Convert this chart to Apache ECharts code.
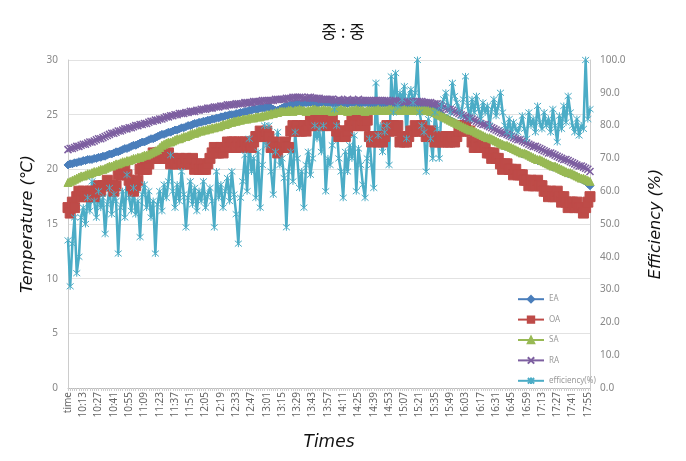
<!DOCTYPE html>
<html>
<head>
<meta charset="utf-8">
<script src="https://cdn.jsdelivr.net/npm/echarts@6/dist/echarts.min.js"></script>
<style>
  html, body { margin: 0; padding: 0; background: #fff; }
  #main { width: 686px; height: 461px; }
</style>
</head>
<body>
<div id="main"></div>
<script>
// categories: first row is the header cell "time", then 2-minute samples from 10:01
const firstLabel = 'time';
const startMinute = 9 * 60 + 59;
const stepMinutes = 2;
const pointCount = 240;

const legendNames = ['EA', 'OA', 'SA', 'RA', 'efficiency(%)'];

// EA temperature (℃)
const eaTemp = [
  20.4,20.5,20.5,20.6,20.6,20.7,20.7,20.8,20.8,20.9,20.9,20.9,21.0,21.0,21.1,21.1,21.2,21.2,21.3,21.4,
  21.4,21.5,21.6,21.6,21.7,21.8,21.9,21.9,22.0,22.1,22.2,22.2,22.3,22.4,22.5,22.5,22.6,22.7,22.8,22.8,
  22.9,23.0,23.1,23.2,23.2,23.3,23.4,23.4,23.5,23.6,23.6,23.7,23.8,23.8,23.9,24.0,24.0,24.1,24.2,24.2,
  24.3,24.3,24.4,24.4,24.5,24.5,24.6,24.6,24.7,24.7,24.8,24.8,24.9,24.9,25.0,25.0,25.0,25.1,25.1,25.2,
  25.2,25.3,25.3,25.4,25.4,25.5,25.5,25.5,25.6,25.6,25.6,25.7,25.7,25.6,25.5,25.4,25.4,25.5,25.6,25.7,
  25.8,25.8,25.9,25.9,26.0,26.0,26.0,26.0,26.1,26.1,26.1,26.1,26.1,26.0,26.0,26.1,26.1,26.1,26.1,26.1,
  26.1,26.1,26.0,26.0,26.1,26.1,26.1,26.0,26.0,26.1,26.1,26.1,26.1,26.0,26.0,26.1,26.1,26.1,26.0,26.0,
  26.0,26.1,26.1,26.0,26.0,26.0,26.1,26.0,26.0,26.0,26.0,26.0,26.0,25.9,25.9,26.0,26.0,26.0,25.9,25.9,
  26.0,26.0,26.0,25.9,25.9,25.8,25.7,25.6,25.5,25.4,25.2,25.0,24.8,24.7,24.6,24.5,24.4,24.3,24.1,24.0,
  23.9,23.8,23.7,23.6,23.5,23.5,23.4,23.3,23.2,23.1,23.0,22.9,22.8,22.8,22.7,22.6,22.5,22.4,22.3,22.2,
  22.1,22.1,22.0,21.9,21.8,21.7,21.6,21.5,21.4,21.4,21.3,21.2,21.1,21.0,20.9,20.8,20.8,20.7,20.6,20.5,
  20.4,20.3,20.2,20.2,20.1,20.0,19.9,19.8,19.7,19.6,19.6,19.5,19.4,19.3,19.2,19.1,19.0,18.9,18.7,18.5
];

// OA temperature (℃), 0.5 degree steps
const oaTemp = [
  16.5,16.0,17.0,16.5, 17.5,18.0,17.5,18.0,17.5,17.5,18.0, 18.0,17.5,18.0,18.5,18.0,
  18.5,18.5,19.0,18.5,18.5,18.0,18.5, 19.5,20.0,19.5,20.0,19.5,19.0, 18.5,18.0,18.5,19.0,
  20.0,20.5,20.0,20.0,20.5, 21.0,21.5,21.0,21.5,21.0,21.5,21.0,21.0,21.5,
  20.5,21.0,20.5,20.5,21.0,20.5,20.5,21.0,20.5,20.5,21.0, 20.0,20.5,20.0,20.5,20.0,20.0,20.5,21.0,
  21.5,22.0,21.5,21.5,22.0,21.5,22.0,
  22.5,22.0,22.5,22.5,22.0,22.5,22.0,22.5,22.5,22.0,22.5,22.0,22.5,23.0, 23.0,23.5,23.0,23.0,23.5,23.0,
  22.0,22.5,22.0,21.5,22.0,22.0,22.5,22.0,22.0, 23.5,24.0,23.5,24.0,23.5,23.5,24.0,23.5,24.0,
  24.5,24.0,24.5,24.0,24.5,24.5,24.0,24.5,24.5,24.0,24.5,24.0, 23.5,23.0,23.5,23.5,23.0,23.5,
  24.0,24.5,24.0,24.5,24.0,24.0,24.5,24.0,24.5, 23.0,22.5,23.0,23.0,22.5,23.0,22.5,23.0,
  24.0,23.5,24.0,24.0,23.5,24.0,22.5,23.0,22.5,22.5,23.0,23.5, 23.5,24.0,23.5,23.5,24.0,23.5,23.0,23.5,23.5,23.0,
  22.5,23.0,22.5,23.0,22.5,23.0,22.5,22.5,23.0,22.5,23.0, 23.5,24.0,23.5,24.0,23.5,23.5,
  22.5,22.0,22.5,22.0,22.0,22.5,22.0,21.5, 21.5,21.0,21.5,21.0,21.0, 20.5,20.0,20.5,20.5,20.0,20.0,
  19.5,20.0,19.5,19.5,19.5,19.0, 19.0,18.5,19.0,18.5,18.5,19.0,18.5,18.5,18.0, 18.0,17.5,18.0,17.5,17.5,18.0,17.5,
  17.0,17.5,17.0,16.5,17.0,17.0,16.5,17.0,16.5, 16.5,16.0,16.5, 17.0,17.5
];

// SA temperature (℃)
const saTemp = [
  18.8,18.9,19.0,19.1,19.2,19.3,19.4,19.4,19.5,19.6,19.6,19.7,19.8,19.8,19.9,20.0,20.0,20.1,20.2,20.3,
  20.3,20.4,20.5,20.5,20.6,20.7,20.7,20.8,20.8,20.9,21.0,21.0,21.1,21.1,21.2,21.3,21.3,21.4,21.5,21.6,
  21.7,21.8,22.0,22.2,22.3,22.4,22.5,22.5,22.6,22.7,22.8,22.8,22.9,23.0,23.0,23.1,23.2,23.3,23.3,23.4,
  23.5,23.5,23.6,23.6,23.7,23.7,23.8,23.8,23.9,23.9,24.0,24.1,24.1,24.2,24.3,24.3,24.4,24.4,24.5,24.5,
  24.6,24.6,24.6,24.7,24.7,24.7,24.8,24.8,24.8,24.9,24.9,25.0,25.0,25.1,25.1,25.2,25.2,25.3,25.3,25.3,
  25.3,25.4,25.4,25.3,25.4,25.4,25.5,25.4,25.4,25.3,25.4,25.4,25.5,25.5,25.4,25.4,25.4,25.5,25.4,25.4,
  25.4,25.3,25.4,25.4,25.4,25.5,25.4,25.4,25.3,25.4,25.4,25.4,25.5,25.4,25.4,25.4,25.3,25.4,25.4,25.4,
  25.4,25.4,25.5,25.4,25.4,25.4,25.4,25.5,25.5,25.4,25.4,25.4,25.4,25.4,25.5,25.4,25.4,25.4,25.4,25.4,
  25.4,25.4,25.4,25.4,25.4,25.4,25.3,25.3,25.2,25.1,25.0,24.9,24.8,24.7,24.6,24.5,24.4,24.3,24.2,24.1,
  24.0,23.9,23.8,23.7,23.6,23.6,23.5,23.4,23.3,23.2,23.1,23.0,22.9,22.9,22.8,22.7,22.6,22.5,22.4,22.3,
  22.2,22.2,22.1,22.0,21.9,21.8,21.7,21.6,21.5,21.5,21.4,21.3,21.2,21.1,21.0,20.9,20.9,20.8,20.7,20.6,
  20.5,20.4,20.3,20.3,20.2,20.1,20.0,19.9,19.8,19.7,19.7,19.6,19.5,19.4,19.3,19.2,19.2,19.1,19.0,18.9
];

// RA temperature (℃)
const raTemp = [
  21.8,21.9,21.9,22.0,22.1,22.1,22.2,22.3,22.3,22.4,22.5,22.5,22.6,22.7,22.8,22.8,22.9,23.0,23.1,23.2,
  23.3,23.3,23.4,23.5,23.5,23.6,23.7,23.7,23.8,23.8,23.9,24.0,24.0,24.1,24.1,24.2,24.2,24.3,24.4,24.4,
  24.5,24.5,24.6,24.6,24.7,24.8,24.8,24.9,24.9,25.0,25.0,25.1,25.1,25.1,25.2,25.2,25.3,25.3,25.3,25.4,
  25.4,25.5,25.5,25.5,25.6,25.6,25.6,25.7,25.7,25.7,25.8,25.8,25.8,25.9,25.9,25.9,25.9,26.0,26.0,26.0,
  26.0,26.1,26.1,26.1,26.1,26.2,26.2,26.2,26.2,26.3,26.3,26.3,26.3,26.3,26.3,26.4,26.4,26.4,26.4,26.4,
  26.5,26.5,26.5,26.6,26.6,26.6,26.6,26.6,26.5,26.5,26.6,26.6,26.5,26.5,26.5,26.5,26.4,26.4,26.4,26.4,
  26.4,26.4,26.3,26.3,26.4,26.3,26.3,26.3,26.4,26.3,26.3,26.3,26.3,26.4,26.3,26.3,26.3,26.3,26.3,26.3,
  26.3,26.3,26.3,26.3,26.3,26.3,26.3,26.2,26.2,26.3,26.3,26.2,26.2,26.2,26.2,26.2,26.2,26.2,26.2,26.2,
  26.2,26.2,26.2,26.1,26.1,26.1,26.1,26.0,26.0,26.0,25.9,25.8,25.7,25.6,25.5,25.5,25.4,25.3,25.2,25.1,
  25.0,24.9,24.8,24.7,24.7,24.6,24.5,24.4,24.3,24.2,24.1,24.1,24.0,23.9,23.8,23.7,23.6,23.5,23.4,23.3,
  23.3,23.2,23.1,23.0,22.9,22.8,22.7,22.7,22.6,22.5,22.4,22.3,22.2,22.1,22.1,22.0,21.9,21.8,21.7,21.6,
  21.5,21.5,21.4,21.3,21.2,21.1,21.0,20.9,20.9,20.8,20.7,20.6,20.5,20.4,20.3,20.3,20.2,20.1,20.0,19.8
];

// efficiency (%)
const efficiency = [
  45,31,44,52,35,40,52,55,50,58,54,63,57,52,60,55,58,47,56,61,
  53,59,57,41,55,60,52,65,58,54,61,53,57,46,59,62,55,60,52,57,
  41,56,60,54,62,58,63,71,60,55,62,57,66,59,49,58,63,56,61,54,
  60,57,63,55,59,61,57,49,66,58,62,55,60,64,57,66,59,53,44,58,
  63,71,60,76,66,70,58,72,55,68,80,74,80,66,59,72,78,68,70,64,
  49,66,72,63,78,70,61,66,55,68,72,65,70,80,76,79,72,80,60,70,
  68,74,85,80,70,66,58,72,66,74,70,77,60,73,68,62,58,70,76,68,
  61,93,77,80,72,78,80,68,95,84,96,86,90,88,92,76,89,91,87,90,
  100,84,80,78,66,82,76,70,84,79,70,86,88,90,86,84,93,89,87,85,
  83,88,95,86,82,88,84,89,85,82,87,84,86,80,85,88,83,86,90,84,
  80,78,82,77,81,79,78,80,83,79,76,84,80,82,78,86,81,79,84,80,
  82,78,85,80,75,83,79,86,81,89,84,80,78,82,77,80,79,100,82,85
];

const tempTicks = [0, 30, 5];
const effTicks = [0, 100, 10];

const times = [];
for (let i = 0; i < pointCount; i++) {
  if (i === 0) { times.push(firstLabel); continue; }
  const m = startMinute + i * stepMinutes;
  const hh = Math.floor(m / 60);
  const mm = m % 60;
  times.push(hh + ':' + (mm < 10 ? '0' + mm : mm));
}

const crossPath = 'path://M0,0L10,10M10,0L0,10';
const starPath = 'path://M0,0L10,10M10,0L0,10M5,-1L5,11';

function lineSeries(name, data, color, symbol, size, axisIndex, bw) {
  return {
    name: name,
    type: 'line',
    yAxisIndex: axisIndex,
    data: data,
    symbol: symbol,
    symbolSize: size,
    showAllSymbol: true,
    lineStyle: { color: color, width: 2.5 },
    itemStyle: { color: color, borderColor: color, borderWidth: bw }
  };
}

var myChart = echarts.init(document.getElementById('main'));
var option = {
  animation: false,
  backgroundColor: '#fff',
  textStyle: { fontFamily: 'Noto Sans, DejaVu Sans, sans-serif' },
  title: {
    text: '중 : 중',
    left: 'center',
    top: 18,
    textStyle: { fontFamily: 'Noto Sans CJK KR', fontSize: 17, fontWeight: 'normal', color: '#111' }
  },
  legend: {
    orient: 'vertical',
    left: 512,
    top: 290,
    itemWidth: 26,
    itemHeight: 8,
    itemGap: 12,
    data: legendNames,
    textStyle: { fontSize: 8, color: '#999' }
  },
  grid: { left: 68, right: 96, top: 60, bottom: 73 },
  xAxis: {
    type: 'category',
    data: times,
    boundaryGap: false,
    name: 'Times',
    nameLocation: 'middle',
    nameGap: 46,
    nameTextStyle: { fontFamily: 'DejaVu Sans', fontStyle: 'italic', fontSize: 17, color: '#111' },
    axisLine: { lineStyle: { color: '#bbb' } },
    axisTick: { show: true, interval: 0, length: 3, lineStyle: { color: '#ccc' } },
    axisLabel: { interval: 6, rotate: 90, fontSize: 10, color: '#666', margin: 4 }
  },
  yAxis: [
    {
      type: 'value',
      min: tempTicks[0],
      max: tempTicks[1],
      interval: tempTicks[2],
      name: 'Temperature (℃)',
      nameLocation: 'middle',
      nameRotate: 90,
      nameGap: 31,
      nameTextStyle: { fontFamily: 'DejaVu Sans', fontStyle: 'italic', fontSize: 16, color: '#111' },
      axisLine: { show: true, lineStyle: { color: '#ccc' } },
      axisTick: { show: false },
      axisLabel: { fontSize: 10, color: '#888', margin: 10 },
      splitLine: { lineStyle: { color: '#e2e2e2' } }
    },
    {
      type: 'value',
      min: effTicks[0],
      max: effTicks[1],
      interval: effTicks[2],
      name: 'Efficiency (%)',
      nameLocation: 'middle',
      nameRotate: 90,
      nameGap: 58,
      nameTextStyle: { fontFamily: 'DejaVu Sans', fontStyle: 'italic', fontSize: 16, color: '#111' },
      axisLine: { show: true, lineStyle: { color: '#ccc' } },
      axisTick: { show: false },
      axisLabel: { fontSize: 10, color: '#888', margin: 10, formatter: function (v) { return v.toFixed(1); } },
      splitLine: { show: false }
    }
  ],
  series: [
    lineSeries('EA', eaTemp, '#4a7ebb', 'diamond', 8, 0, 1),
    lineSeries('OA', oaTemp, '#be4b48', 'rect', 10, 0, 1),
    lineSeries('SA', saTemp, '#98b954', 'triangle', 8, 0, 1),
    lineSeries('RA', raTemp, '#7d5fa0', crossPath, 7, 0, 1.5),
    lineSeries('efficiency(%)', efficiency, '#4bacc6', starPath, 7, 1, 1)
  ]
};
myChart.setOption(option);
</script>
</body>
</html>
